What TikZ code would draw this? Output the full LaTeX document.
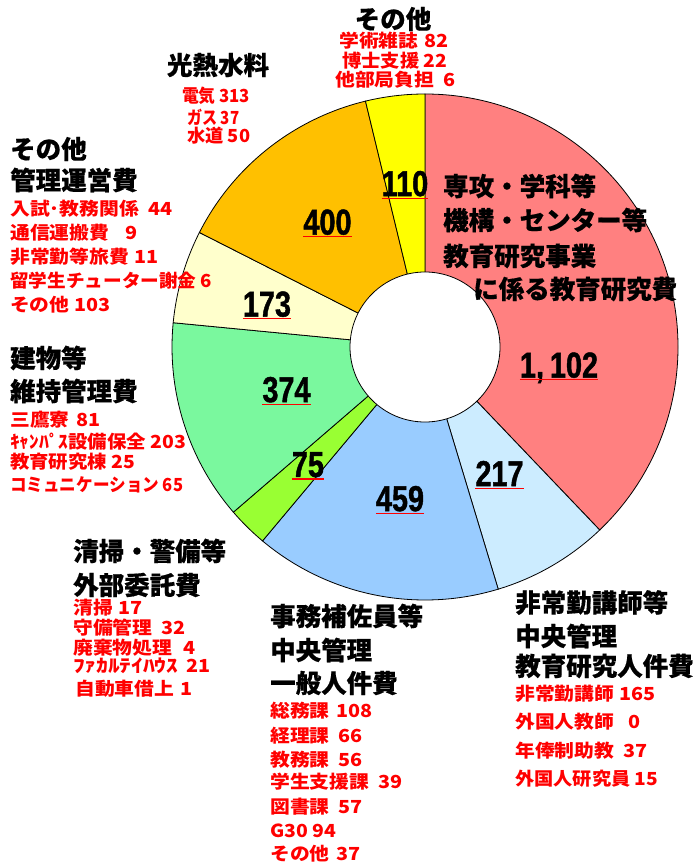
\documentclass[tikz,border=0pt]{standalone}
\usepackage{fontspec}
\usepackage{graphicx}
\usetikzlibrary{calc}
\newfontfamily\jp{Noto Sans CJK JP}[FakeBold=0.5]
\newfontfamily\jpr{Noto Sans CJK JP}[FakeStretch=1.1]
\newfontfamily\numf{Liberation Sans}[FakeStretch=0.8,FakeBold=1.2]
\definecolor{cpink}{RGB}{255,128,128}
\definecolor{clblue}{RGB}{204,236,255}
\definecolor{cblue}{RGB}{153,204,255}
\definecolor{cygreen}{RGB}{153,255,51}
\definecolor{cgreen}{RGB}{122,248,158}
\definecolor{ccream}{RGB}{255,255,204}
\definecolor{corange}{RGB}{255,192,0}
\definecolor{cyellow}{RGB}{255,255,0}
\definecolor{cred}{RGB}{255,0,0}
\newsavebox\rlbox
\newcommand\rline[3]{\sbox\rlbox{#2\ #3}\ifdim\wd\rlbox>#1\relax\resizebox{#1}{\height}{\usebox\rlbox}\else\makebox[#1][l]{#2\hfill#3}\fi}
\tikzset{
  ttl/.style={font=\jp\bfseries\fontsize{25.5}{28}\selectfont, inner sep=0pt, anchor=west, text=black},
  redtxt/.style={font=\jpr\bfseries\fontsize{18}{20}\selectfont, text=cred, inner sep=0pt, anchor=west},
  num/.style={font=\numf\bfseries\fontsize{36}{40}\selectfont, inner sep=0pt, text depth=0pt},
  ul/.style={draw=cred, line width=1.4pt},
  wedge/.style={draw=black, line width=0.8pt},
}
\begin{document}
\begin{tikzpicture}[x=1pt,y=-1pt]
\useasboundingbox (0,0) rectangle (700,864);
\fill[white] (0,0) rectangle (700,864);
% donut
\begin{scope}[shift={(425,347)}, yscale=-1]
\def\R{253}
\filldraw[wedge, fill=cpink]   (0,0) -- (90:\R) arc[start angle=90, end angle=-46.33, radius=\R] -- cycle;
\filldraw[wedge, fill=clblue]  (0,0) -- (-46.33:\R) arc[start angle=-46.33, end angle=-73.18, radius=\R] -- cycle;
\filldraw[wedge, fill=cblue]   (0,0) -- (-73.18:\R) arc[start angle=-73.18, end angle=-129.96, radius=\R] -- cycle;
\filldraw[wedge, fill=cygreen] (0,0) -- (-129.96:\R) arc[start angle=-129.96, end angle=-139.24, radius=\R] -- cycle;
\filldraw[wedge, fill=cgreen]  (0,0) -- (-139.24:\R) arc[start angle=-139.24, end angle=-185.51, radius=\R] -- cycle;
\filldraw[wedge, fill=ccream]  (0,0) -- (-185.51:\R) arc[start angle=-185.51, end angle=-206.91, radius=\R] -- cycle;
\filldraw[wedge, fill=corange] (0,0) -- (-206.91:\R) arc[start angle=-206.91, end angle=-256.39, radius=\R] -- cycle;
\filldraw[wedge, fill=cyellow] (0,0) -- (-256.39:\R) arc[start angle=-256.39, end angle=-270, radius=\R] -- cycle;
\filldraw[wedge, fill=white] (0,0) circle[radius=75];
\end{scope}
% numbers
\node[num] (n110) at (405,183.5) {110};
\node[num] (n400) at (327.5,222) {400};
\node[num] (n173) at (267,304) {173};
\node[num] (n374) at (286.5,389.5) {374};
\node[num] (n75) at (308,464.5) {75};
\node[num] (n459) at (400,498.5) {459};
\node[num] (n217) at (499.5,473.5) {217};
\node[num] (n1102) at (559,365) {1,\hspace{6pt}102};
\foreach \n in {n110,n400,n173,n374,n75,n459,n217,n1102}
  \draw[ul] ($(\n.south west)+(0,2)$) -- ($(\n.south east)+(0,2)$);
% pink label
\node[ttl] (p1) at (443,186) {専攻・学科等};
\node[ttl] (p2) at (443,220) {機構・センター等};
\node[ttl] (p3) at (443,256) {教育研究事業};
\node[ttl] (p4) at (473,289) {に係る教育研究費};
% top other
\node[ttl, anchor=center] (t1) at (393,19) {その他};
\node[redtxt] (t2) at (339,41) {\rline{109pt}{学術雑誌}{82}};
\node[redtxt] (t3) at (342,61) {\rline{105pt}{博士支援}{22}};
\node[redtxt] (t4) at (335,80) {\rline{120pt}{他部局負担}{6}};
% utilities
\node[ttl, anchor=center] (u1) at (218,65) {光熱水料};
\node[redtxt] (u2) at (182,96) {\rline{68pt}{電気}{313}};
\node[redtxt] (u3) at (187,117) {\rline{52pt}{ガス}{37}};
\node[redtxt] (u4) at (187,136) {\rline{63pt}{水道}{50}};
% admin
\node[ttl] (a1) at (10,149) {その他};
\node[ttl] (a2) at (10,180) {管理運営費};
\node[redtxt] (a3) at (10,209) {\rline{162pt}{入試･教務関係}{44}};
\node[redtxt] (a4) at (10,233) {\rline{127pt}{通信運搬費}{9}};
\node[redtxt] (a5) at (10,257) {\rline{148pt}{非常勤等旅費}{11}};
\node[redtxt] (a6) at (10,281) {\rline{202pt}{留学生チューター謝金}{6}};
\node[redtxt] (a7) at (10,305) {\rline{100pt}{その他}{103}};
% buildings
\node[ttl] (b1) at (10,358) {建物等};
\node[ttl] (b2) at (10,391) {維持管理費};
\node[redtxt] (b3) at (10,419.5) {\rline{90pt}{三鷹寮}{81}};
\node[redtxt] (b4) at (10,442) {\rline{176pt}{ｷｬﾝﾊﾟｽ設備保全}{203}};
\node[redtxt] (b5) at (10,462) {\rline{125pt}{教育研究棟}{25}};
\node[redtxt] (b6) at (10,485) {\rline{173pt}{コミュニケーション}{65}};
% outsourcing
\node[ttl] (c1) at (73,551) {清掃・警備等};
\node[ttl] (c2) at (73,585) {外部委託費};
\node[redtxt] (c3) at (73,608) {\rline{69pt}{清掃}{17}};
\node[redtxt] (c4) at (73,627.5) {\rline{112pt}{守備管理}{32}};
\node[redtxt] (c5) at (73,647.5) {\rline{122pt}{廃棄物処理}{4}};
\node[redtxt] (c6) at (73,666) {\rline{137pt}{\scalebox{1.18}[1]{ﾌｧｶﾙﾃｲﾊｳｽ}}{21}};
\node[redtxt] (c7) at (75,689) {\rline{117pt}{自動車借上}{1}};
% staff
\node[ttl] (d1) at (270,616) {事務補佐員等};
\node[ttl] (d2) at (270,650) {中央管理};
\node[ttl] (d3) at (270,683) {一般人件費};
\node[redtxt] (d4) at (270,711) {\rline{102pt}{総務課}{108}};
\node[redtxt] (d5) at (270,736) {\rline{92pt}{経理課}{66}};
\node[redtxt] (d6) at (270,760) {\rline{92pt}{教務課}{56}};
\node[redtxt] (d7) at (270,782) {\rline{132pt}{学生支援課}{39}};
\node[redtxt] (d8) at (270,807) {\rline{92pt}{図書課}{57}};
\node[redtxt] (d9) at (270,831) {\rline{66pt}{G30}{94}};
\node[redtxt] (d10) at (270,854) {\rline{90pt}{その他}{37}};
% lecturers
\node[ttl] (e1) at (515,602.5) {非常勤講師等};
\node[ttl] (e2) at (515,636) {中央管理};
\node[ttl] (e3) at (515,666) {教育研究人件費};
\node[redtxt] (e4) at (515,694) {\rline{140pt}{非常勤講師}{165}};
\node[redtxt] (e5) at (515,722) {\rline{125pt}{外国人教師}{0}};
\node[redtxt] (e6) at (515,750.5) {\rline{132pt}{年俸制助教}{37}};
\node[redtxt] (e7) at (515,779) {\rline{143pt}{外国人研究員}{15}};
\end{tikzpicture}
\end{document}
